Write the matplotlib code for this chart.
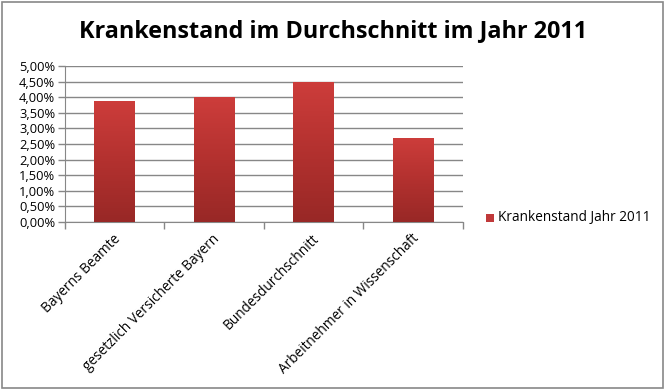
import numpy as np
import matplotlib
matplotlib.use('Agg')
from matplotlib import pyplot as plt
from matplotlib.colors import LinearSegmentedColormap
from matplotlib.patches import Rectangle
from matplotlib.ticker import FuncFormatter

categories = ['Bayerns Beamte', 'gesetzlich Versicherte Bayern',
              'Bundesdurchschnitt', 'Arbeitnehmer in Wissenschaft']
values = [3.88, 4.0, 4.5, 2.7]
series_name = 'Krankenstand Jahr 2011'
title = 'Krankenstand im Durchschnitt im Jahr 2011'

plt.rcParams['font.family'] = ['Open Sans', 'DejaVu Sans']

fig = plt.figure(figsize=(6.66, 3.9), dpi=100)
fig.patches.append(Rectangle((0.003, 0.005), 0.992, 0.99, transform=fig.transFigure,
                             fill=False, edgecolor='#888888', linewidth=1.2))
ax = fig.add_axes([0.0976, 0.4308, 0.5975, 0.4])

grad = LinearSegmentedColormap.from_list('bar', ['#982826', '#B3312F', '#CD3D3B'])
x = np.arange(len(categories))
width = 0.41
bars = ax.bar(x, values, width, color='none', edgecolor='none', zorder=3)
g = np.linspace(0, 1, 256).reshape(-1, 1)
for b in bars:
    x0, h = b.get_x(), b.get_height()
    im = ax.imshow(g, cmap=grad, origin='lower', aspect='auto',
                   extent=[x0, x0 + width, 0, h], zorder=3)
    im.set_clip_path(b)

ax.set_xlim(-0.5, len(categories) - 0.5)
ax.set_ylim(0, 5)
ax.set_yticks(np.arange(0, 5.01, 0.5))
ax.yaxis.set_major_formatter(FuncFormatter(lambda v, p: ('%.2f%%' % v).replace('.', ',')))
ax.grid(axis='y', color='#878787', linewidth=1.0, zorder=0)
ax.set_xticks(np.arange(-0.5, len(categories), 1.0))
ax.set_xticklabels([])
ax.tick_params(axis='both', colors='#878787', length=5, width=1.0, labelcolor='black',
               labelsize=9.3)
ax.tick_params(axis='y', pad=2)
for s in ['top', 'right']:
    ax.spines[s].set_visible(False)
for s in ['left', 'bottom']:
    ax.spines[s].set_color('#878787')

for i, c in enumerate(categories):
    ax.text(i - 0.02, -0.3, c, rotation=45, ha='right', va='top', rotation_mode='anchor',
            fontsize=9.8)

fig.text(0.5, 0.92, title, ha='center', va='center', fontsize=16.8, fontweight='bold')

fig.patches.append(Rectangle((486 / 666, 1 - 222 / 390), 8 / 666, 8 / 390,
                             transform=fig.transFigure, facecolor='#C0393A', edgecolor='none'))
fig.text(498 / 666, 1 - 218 / 390, series_name, ha='left', va='center', fontsize=9.8)

fig.savefig('out.png', dpi=100)
